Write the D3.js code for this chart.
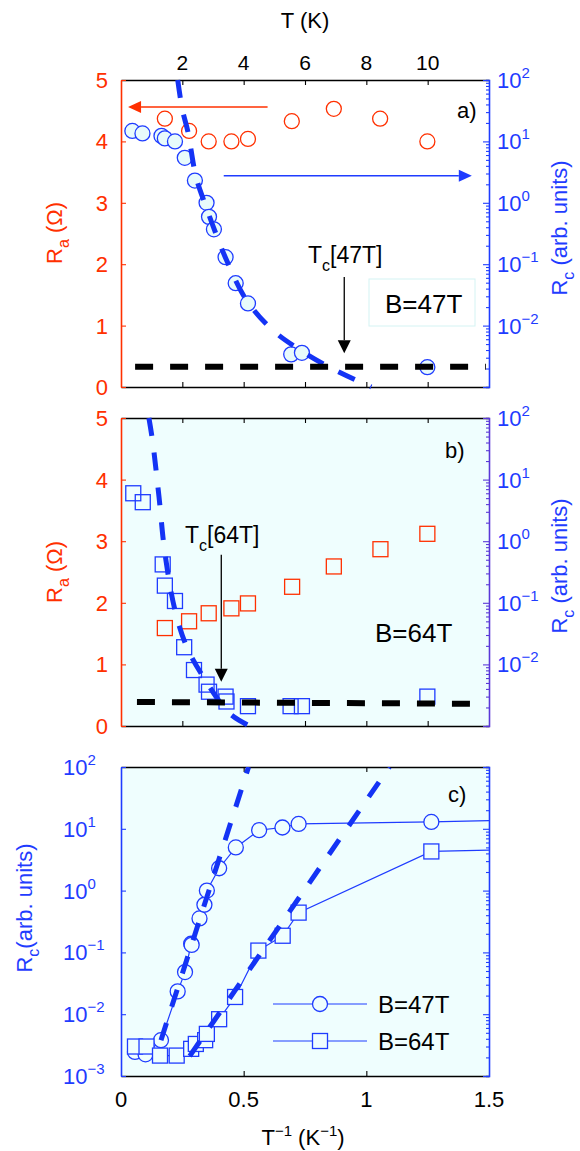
<!DOCTYPE html>
<html><head><meta charset="utf-8">
<script src="https://cdn.jsdelivr.net/npm/d3@7"></script>
<style>
body{margin:0;background:#fff}
svg{display:block}
text{font-family:"Liberation Sans",Arial,Helvetica,sans-serif}
</style>
</head><body>
<svg id="c" width="580" height="1151"></svg>
<script>
// ---------- tick labels ----------
const topTicksT = [2, 4, 6, 8, 10];
const raTicks = [0, 1, 2, 3, 4, 5];
const rcTickExpAB = [-2, -1, 0, 1, 2];
const rcTickExpC = [-3, -2, -1, 0, 1, 2];
const invTTicks = [0, 0.5, 1, 1.5];
const invTLabels = ["0", "0.5", "1", "1.5"];

// ---------- panel a (B=47T) ----------
const aRaT = [1.43, 2.22, 2.86, 3.6, 4.14, 5.57, 6.94, 8.45, 9.99];
const aRa  = [4.37, 4.17, 4.0, 4.0, 4.04, 4.33, 4.53, 4.37, 4.0];
const aRcT = [0.37, 0.70, 1.32, 1.43, 1.76, 2.08, 2.41, 2.79, 2.87, 3.03, 3.41, 3.74, 4.14, 5.55, 5.90, 9.99];
const aRc  = [14.8, 13.5, 12.3, 11.2, 10.0, 5.4, 2.3, 1.0, 0.59, 0.37, 0.13, 0.049, 0.023, 0.0034, 0.0036, 0.0021];
const aFitT  = [1.85, 2.0, 2.18, 2.45, 2.76, 3.06, 3.44, 4.09, 4.94, 5.71, 6.8, 8.16];
const aFitRc = [100, 33, 14.5, 2.6, 0.9, 0.35, 0.117, 0.026, 0.0085, 0.0044, 0.0021, 0.001];
const aBaseT = [0.46, 11.9];
const aBaseRa = [0.33, 0.33];

// ---------- panel b (B=64T) ----------
const bRaT = [1.43, 2.22, 2.86, 3.6, 4.14, 5.58, 6.94, 8.46, 9.99];
const bRa  = [1.59, 1.70, 1.83, 1.91, 1.99, 2.26, 2.59, 2.87, 3.12];
const bRcT = [0.40, 0.71, 1.36, 1.43, 1.76, 2.06, 2.38, 2.79, 2.87, 3.41, 3.44, 4.14, 5.53, 5.90, 9.99];
const bRc  = [6.0, 4.3, 0.42, 0.19, 0.107, 0.019, 0.0081, 0.0047, 0.0036, 0.003, 0.0025, 0.0021, 0.0021, 0.0021, 0.003];
const bFitT  = [0.91, 1.03, 1.24, 1.43, 1.76, 2.14, 2.68, 3.54, 4.2];
const bFitRc = [100, 42, 5.2, 0.65, 0.076, 0.0195, 0.0063, 0.0016, 0.001];
const bBaseT = [0.52, 11.9];
const bBaseRa = [0.39, 0.36];

// ---------- panel c (Rc vs 1/T) ----------
const c47InvT = [0.057, 0.100, 0.163, 0.231, 0.261, 0.286, 0.288, 0.320, 0.340, 0.350, 0.400, 0.468, 0.563, 0.658, 0.724, 1.265, 1.7];
const c47Rc   = [0.00245, 0.00224, 0.0038, 0.0234, 0.048, 0.138, 0.132, 0.355, 0.59, 1.0, 2.3, 5.0, 9.5, 10.5, 12.0, 12.9, 14.1];
const c64InvT = [0.057, 0.104, 0.159, 0.227, 0.286, 0.305, 0.343, 0.350, 0.400, 0.465, 0.560, 0.659, 0.724, 1.265, 1.7];
const c64Rc   = [0.0030, 0.0030, 0.00214, 0.00214, 0.00275, 0.0033, 0.0038, 0.0048, 0.0083, 0.019, 0.107, 0.186, 0.44, 4.3, 4.7];
const c47FitInvT = [0.163, 0.52];
const c47FitRc   = [0.0038, 100];
const c64FitInvT = [0.28, 1.094];
const c64FitRc   = [0.0021, 100];

// ---------- annotations (data coords) ----------
const redArrow = {t0: 4.78, t1: 0.23, ra: 4.56};
const blueArrow = {t0: 3.35, t1: 11.44, ra: 3.44};
const tc47 = {t: 7.28, ra0: 1.79, ra1: 0.55};
const tc64 = {t: 3.27, ra0: 2.78, ra1: 0.72};

// ---------- styles ----------
const RED = "#ff3000", BLUE = "#1f3cff", DBLUE = "#1433f5", CYAN = "#effefe", PURP = "#5a38d8";
const FONT = 22;

const svg = d3.select("#c");
const X0 = 121, X1 = 489;
const PA = [80, 387], PB = [418, 726], PC = [767, 1076];
const xT = d3.scaleLinear().domain([0, 12]).range([X0, X1]);
const xInv = d3.scaleLinear().domain([0, 1.5]).range([X0, X1]);
const yLin = p => d3.scaleLinear().domain([0, 5]).range([p[1], p[0]]);
const yLog = p => d3.scaleLog().domain([1e-3, 1e2]).range([p[1], p[0]]);
const isMajor = d => Math.abs(Math.log10(d) - Math.round(Math.log10(d))) < 1e-6;

function styleAxis(g, color, keepDomain) {
  if (keepDomain) g.select(".domain").attr("stroke", color).attr("stroke-width", 1.6);
  else g.select(".domain").remove();
  g.selectAll(".tick line").attr("stroke", color).attr("stroke-width", 1.1);
  g.selectAll(".tick text").remove();
}
function linAxis(gen, tx, ty, color) {
  const g = svg.append("g").attr("transform", `translate(${tx},${ty})`).call(gen);
  styleAxis(g, color, true);
  return g;
}
function logAxisSide(y, tx, color, side) {
  const gen = (side === "right" ? d3.axisRight(y) : d3.axisLeft(y))
    .tickValues(y.ticks()).tickSizeOuter(0).tickSize(side === "right" ? -3 : 3);
  const g = svg.append("g").attr("transform", `translate(${tx},0)`).call(gen);
  styleAxis(g, color, true);
  g.selectAll(".tick line").attr("x2", d => (side === "right" ? -1 : 1) * (isMajor(d) ? 6 : 3));
  return g;
}
function logLabel(x, y, exp, anchor) {
  const t = svg.append("text").attr("x", x).attr("y", y + 8).attr("fill", BLUE)
    .attr("font-size", FONT).attr("text-anchor", anchor || "start");
  t.append("tspan").text("10");
  t.append("tspan").attr("dy", -10).attr("font-size", 15).text(exp < 0 ? "\u2212" + (-exp) : String(exp));
}
function arrow(x1, y1, x2, y2, color, hl, hw, sw) {
  const a = Math.atan2(y2 - y1, x2 - x1);
  const bx = x2 - hl * Math.cos(a), by = y2 - hl * Math.sin(a);
  svg.append("line").attr("x1", x1).attr("y1", y1).attr("x2", bx).attr("y2", by)
    .attr("stroke", color).attr("stroke-width", sw);
  const px = -Math.sin(a) * hw, py = Math.cos(a) * hw;
  svg.append("path").attr("d", `M${x2},${y2}L${bx + px},${by + py}L${bx - px},${by - py}Z`).attr("fill", color);
}
function circles(data, x, y, color, fill, r) {
  svg.append("g").selectAll("circle").data(data).join("circle")
    .attr("cx", d => x(d[0])).attr("cy", d => y(d[1])).attr("r", r || 7.5)
    .attr("fill", fill).attr("stroke", color).attr("stroke-width", 1.3);
}
function squares(data, x, y, color, fill, s) {
  s = s || 15;
  svg.append("g").selectAll("rect").data(data).join("rect")
    .attr("x", d => x(d[0]) - s / 2).attr("y", d => y(d[1]) - s / 2).attr("width", s).attr("height", s)
    .attr("fill", fill).attr("stroke", color).attr("stroke-width", 1.3);
}
function dashed(data, x, y, color, w, curve, clip) {
  const p = svg.append("path").datum(data)
    .attr("d", d3.line().x(d => x(d[0])).y(d => y(d[1])).curve(curve || d3.curveLinear))
    .attr("fill", "none").attr("stroke", color).attr("stroke-width", w)
    .attr("stroke-dasharray", "18,17");
  if (clip) p.attr("clip-path", clip);
}
function rotTitle(x, y, main, sub, rest, color) {
  const t = svg.append("text").attr("transform", `translate(${x},${y}) rotate(-90)`)
    .attr("text-anchor", "middle").attr("fill", color).attr("font-size", FONT);
  t.append("tspan").text(main);
  t.append("tspan").attr("dy", 7).attr("font-size", 16).text(sub);
  t.append("tspan").attr("dy", -7).text(rest);
}

// ====== panel backgrounds ======
svg.append("rect").attr("x", X0).attr("y", PB[0]).attr("width", X1 - X0).attr("height", PB[1] - PB[0]).attr("fill", CYAN);
svg.append("rect").attr("x", X0).attr("y", PC[0]).attr("width", X1 - X0).attr("height", PC[1] - PC[0]).attr("fill", CYAN);
svg.append("clipPath").attr("id", "clipC").append("rect")
  .attr("x", X0).attr("y", PC[0]).attr("width", X1 - X0).attr("height", PC[1] - PC[0]);

// ====== PANEL A ======
{
  const yR = yLin(PA), yC = yLog(PA);
  // legend box B=47T
  svg.append("rect").attr("x", 369).attr("y", 279).attr("width", 106).attr("height", 47)
    .attr("fill", "#fff").attr("stroke", "#d4f3f3").attr("stroke-width", 1);
  linAxis(d3.axisTop(xT).tickValues(topTicksT).tickSize(-5).tickSizeOuter(0), 0, PA[0], "#000");
  linAxis(d3.axisBottom(xT).tickValues(topTicksT).tickSize(-5).tickSizeOuter(0), 0, PA[1], "#000");
  linAxis(d3.axisLeft(yR).tickValues(raTicks).tickSize(-5).tickSizeOuter(0), X0, 0, RED);
  logAxisSide(yC, X1, BLUE, "right");

  topTicksT.forEach(v => svg.append("text").attr("x", xT(v)).attr("y", 70).attr("text-anchor", "middle")
    .attr("font-size", 21).attr("fill", "#000").text(v));
  svg.append("text").attr("x", 305).attr("y", 28).attr("text-anchor", "middle").attr("font-size", FONT).text("T (K)");
  raTicks.forEach(v => svg.append("text").attr("x", 108).attr("y", yR(v) + 8).attr("text-anchor", "end")
    .attr("font-size", FONT).attr("fill", RED).text(v));
  rcTickExpAB.forEach(e => logLabel(497, yC(Math.pow(10, e)), e));
  rotTitle(62, 233, "R", "a", " (\u03A9)", RED);
  rotTitle(567, 228, "R", "c", " (arb. units)", BLUE);

  circles(d3.zip(aRaT, aRa), xT, yR, RED, "none");
  circles(d3.zip(aRcT, aRc), xT, yC, BLUE, "#e8fbfb");
  dashed(d3.zip(aFitT, aFitRc), xT, yC, DBLUE, 5, d3.curveCatmullRom);
  dashed(d3.zip(aBaseT, aBaseRa), xT, yR, "#000", 6);

  arrow(xT(redArrow.t0), yR(redArrow.ra), xT(redArrow.t1), yR(redArrow.ra), RED, 13, 6, 1.5);
  arrow(xT(blueArrow.t0), yR(blueArrow.ra), xT(blueArrow.t1), yR(blueArrow.ra), BLUE, 13, 6, 1.5);
  arrow(xT(tc47.t), yR(tc47.ra0), xT(tc47.t), yR(tc47.ra1), "#000", 13, 6.5, 1.3);

  const tc = svg.append("text").attr("x", 308).attr("y", 263).attr("font-size", 23);
  tc.append("tspan").text("T");
  tc.append("tspan").attr("dy", 8).attr("font-size", 16).text("c");
  tc.append("tspan").attr("dy", -8).text("[47T]");
  svg.append("text").attr("x", 385).attr("y", 313).attr("font-size", 26).text("B=47T");
  svg.append("text").attr("x", 457).attr("y", 118).attr("font-size", FONT).text("a)");
}

// ====== PANEL B ======
{
  const yR = yLin(PB), yC = yLog(PB);
  linAxis(d3.axisTop(xT).tickValues(topTicksT).tickSize(-5).tickSizeOuter(0), 0, PB[0], "#000");
  linAxis(d3.axisBottom(xT).tickValues(topTicksT).tickSize(-5).tickSizeOuter(0), 0, PB[1], "#000");
  linAxis(d3.axisLeft(yR).tickValues(raTicks).tickSize(-5).tickSizeOuter(0), X0, 0, RED);
  logAxisSide(yC, X1, PURP, "right");

  raTicks.forEach(v => svg.append("text").attr("x", 108).attr("y", yR(v) + 8).attr("text-anchor", "end")
    .attr("font-size", FONT).attr("fill", RED).text(v));
  rcTickExpAB.forEach(e => logLabel(497, yC(Math.pow(10, e)), e));
  rotTitle(62, 572, "R", "a", " (\u03A9)", RED);
  rotTitle(567, 566, "R", "c", " (arb. units)", BLUE);

  squares(d3.zip(bRaT, bRa), xT, yR, RED, "none");
  squares(d3.zip(bRcT, bRc), xT, yC, BLUE, "none");
  dashed(d3.zip(bFitT, bFitRc), xT, yC, DBLUE, 5, d3.curveCatmullRom);
  dashed(d3.zip(bBaseT, bBaseRa), xT, yR, "#000", 6);

  arrow(xT(tc64.t), yR(tc64.ra0), xT(tc64.t), yR(tc64.ra1), "#000", 13, 6.5, 1.3);
  const tc = svg.append("text").attr("x", 185).attr("y", 543).attr("font-size", 23);
  tc.append("tspan").text("T");
  tc.append("tspan").attr("dy", 8).attr("font-size", 16).text("c");
  tc.append("tspan").attr("dy", -8).text("[64T]");
  svg.append("text").attr("x", 375).attr("y", 642).attr("font-size", 26).text("B=64T");
  svg.append("text").attr("x", 445).attr("y", 458).attr("font-size", FONT).text("b)");
}

// ====== PANEL C ======
{
  const yC = yLog(PC);
  const inner = invTTicks.slice(1, 3);
  linAxis(d3.axisTop(xInv).tickValues(inner).tickSize(-5).tickSizeOuter(0), 0, PC[0], "#000");
  linAxis(d3.axisBottom(xInv).tickValues(inner).tickSize(-5).tickSizeOuter(0), 0, PC[1], "#000");
  const gl = svg.append("g").attr("transform", `translate(${X0},0)`)
    .call(d3.axisLeft(yC).tickValues(rcTickExpC.map(e => Math.pow(10, e))).tickSize(-5).tickSizeOuter(0));
  styleAxis(gl, BLUE, true);
  logAxisSide(yC, X1, BLUE, "right");

  invTTicks.forEach((v, i) => svg.append("text").attr("x", xInv(v)).attr("y", 1107).attr("text-anchor", "middle")
    .attr("font-size", FONT).text(invTLabels[i]));
  rcTickExpC.forEach(e => logLabel(63, yC(Math.pow(10, e)), e));
  rotTitle(32, 908, "R", "c", "(arb. units)", BLUE);
  const xl = svg.append("text").attr("x", 303).attr("y", 1145).attr("text-anchor", "middle").attr("font-size", FONT);
  xl.append("tspan").text("T");
  xl.append("tspan").attr("dy", -9).attr("font-size", 15).text("\u22121");
  xl.append("tspan").attr("dy", 9).text(" (K");
  xl.append("tspan").attr("dy", -9).attr("font-size", 15).text("\u22121");
  xl.append("tspan").attr("dy", 9).text(")");

  const line = d3.line().x(d => xInv(d[0])).y(d => yC(d[1]));
  const g = svg.append("g").attr("clip-path", "url(#clipC)");
  const d47 = d3.zip(c47InvT, c47Rc), d64 = d3.zip(c64InvT, c64Rc);
  g.append("path").datum(d47).attr("d", line).attr("fill", "none").attr("stroke", BLUE).attr("stroke-width", 1.2);
  g.append("path").datum(d64).attr("d", line).attr("fill", "none").attr("stroke", BLUE).attr("stroke-width", 1.2);
  g.append("g").selectAll("circle").data(d47).join("circle")
    .attr("cx", d => xInv(d[0])).attr("cy", d => yC(d[1])).attr("r", 7.5)
    .attr("fill", CYAN).attr("stroke", BLUE).attr("stroke-width", 1.3);
  g.append("g").selectAll("rect").data(d64).join("rect")
    .attr("x", d => xInv(d[0]) - 7.5).attr("y", d => yC(d[1]) - 7.5).attr("width", 15).attr("height", 15)
    .attr("fill", CYAN).attr("stroke", BLUE).attr("stroke-width", 1.3);
  dashed(d3.zip(c47FitInvT, c47FitRc), xInv, yC, DBLUE, 5, null, "url(#clipC)");
  dashed(d3.zip(c64FitInvT, c64FitRc), xInv, yC, DBLUE, 5, null, "url(#clipC)");

  // legend
  [[1004, "circle", "B=47T"], [1041, "square", "B=64T"]].forEach(([ly, m, lab]) => {
    svg.append("line").attr("x1", 273).attr("x2", 367).attr("y1", ly).attr("y2", ly).attr("stroke", BLUE).attr("stroke-width", 1.2);
    if (m === "circle") svg.append("circle").attr("cx", 320).attr("cy", ly).attr("r", 7.5).attr("fill", CYAN).attr("stroke", BLUE).attr("stroke-width", 1.3);
    else svg.append("rect").attr("x", 312.5).attr("y", ly - 7.5).attr("width", 15).attr("height", 15).attr("fill", CYAN).attr("stroke", BLUE).attr("stroke-width", 1.3);
    svg.append("text").attr("x", 378).attr("y", ly + 9).attr("font-size", 24).text(lab);
  });
  svg.append("text").attr("x", 448).attr("y", 802).attr("font-size", FONT).text("c)");
}
</script>
</body></html>
